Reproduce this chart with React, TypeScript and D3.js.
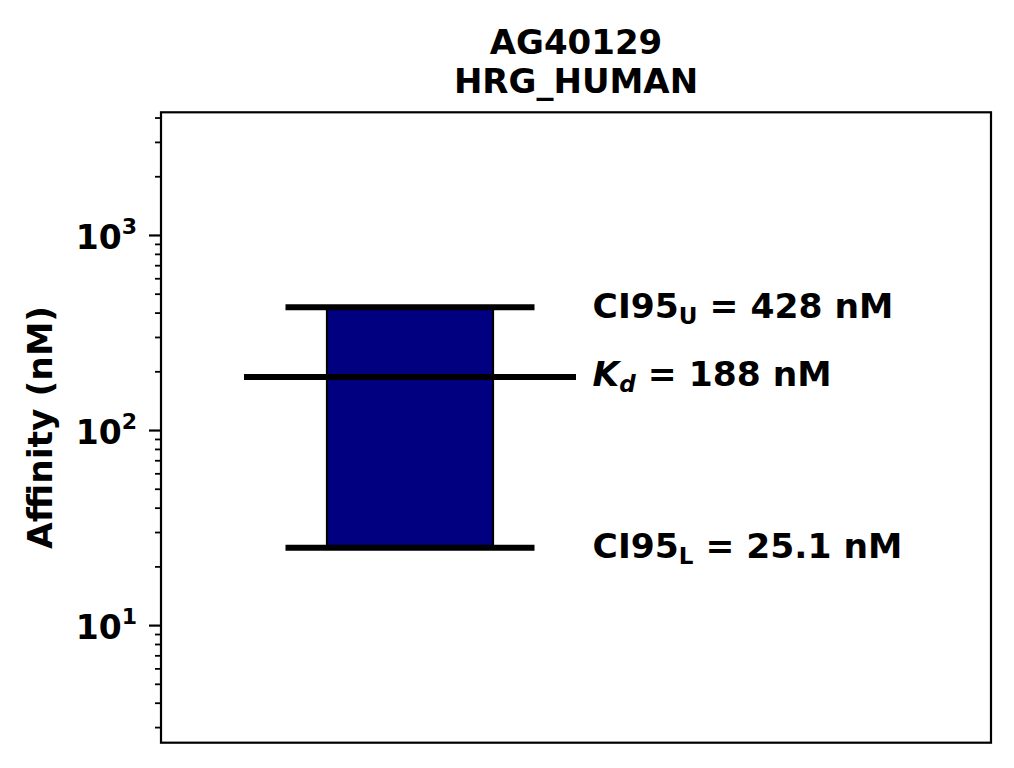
import React from "react";
import * as d3 from "d3";

const titleLines = ["AG40129", "HRG_HUMAN"];
const yLabel = "Affinity (nM)";
const kd = 188;
const ci95Lower = 25.1;
const ci95Upper = 428;
const barX = [0.2, 0.4];
const ciLineX = [0.15, 0.45];
const kdLineX = [0.1, 0.5];
const labelX = 0.52;
const majorTicks = [10, 100, 1000];
const majorTickExp = ["1", "2", "3"];

const W = 1014;
const H = 768;
const M = { left: 161, right: 991, top: 112.3, bottom: 742.7 };
const FONT = "'DejaVu Sans', sans-serif";

export default function App() {
  const x = d3.scaleLinear().domain([0, 1]).range([M.left, M.right]);
  const y = d3
    .scaleLog()
    .domain([ci95Lower / 10, ci95Upper * 10])
    .range([M.bottom, M.top]);
  const [y0, y1] = y.domain();
  const minor: number[] = [];
  for (let e = Math.floor(Math.log10(y0)); e <= Math.ceil(Math.log10(y1)); e++) {
    for (let m = 2; m <= 9; m++) {
      const v = m * Math.pow(10, e);
      if (v >= y0 && v <= y1) minor.push(v);
    }
  }
  const cx = (M.left + M.right) / 2;
  const cy = (M.top + M.bottom) / 2;
  const lw = 6;
  const fs = 34.5;
  const sub = 23;
  return (
    <div style={{ position: "absolute", left: 0, top: 0 }}>
      <svg width={W} height={H} style={{ display: "block", background: "#fff" }} fontFamily={FONT} fontWeight="bold">
        <rect x={0} y={0} width={W} height={H} fill="#fff" />
        <text x={cx} y={54} textAnchor="middle" fontSize={34}>{titleLines[0]}</text>
        <text x={cx} y={93} textAnchor="middle" fontSize={34}>{titleLines[1]}</text>
        {/* bar */}
        <rect
          x={x(barX[0])}
          y={y(ci95Upper)}
          width={x(barX[1]) - x(barX[0])}
          height={y(ci95Lower) - y(ci95Upper)}
          fill="#000080"
          stroke="#000"
          strokeWidth={2.2}
        />
        <line x1={x(ciLineX[0])} x2={x(ciLineX[1])} y1={y(ci95Upper)} y2={y(ci95Upper)} stroke="#000" strokeWidth={lw} />
        <line x1={x(ciLineX[0])} x2={x(ciLineX[1])} y1={y(ci95Lower)} y2={y(ci95Lower)} stroke="#000" strokeWidth={lw} />
        <line x1={x(kdLineX[0])} x2={x(kdLineX[1])} y1={y(kd)} y2={y(kd)} stroke="#000" strokeWidth={lw} />
        {/* labels */}
        <text x={x(labelX)} y={y(ci95Upper) + 10.5} fontSize={fs}>
          CI95<tspan fontSize={sub} dy={6}>U</tspan><tspan dy={-6}> = {ci95Upper} nM</tspan>
        </text>
        <text x={x(labelX)} y={y(kd) + 8.5} fontSize={fs}>
          <tspan fontStyle="italic">K</tspan><tspan fontSize={sub} dy={6} fontStyle="italic">d</tspan><tspan dy={-6}> = {kd} nM</tspan>
        </text>
        <text x={x(labelX)} y={y(ci95Lower) + 10.5} fontSize={fs}>
          CI95<tspan fontSize={sub} dy={6}>L</tspan><tspan dy={-6}> = {ci95Lower} nM</tspan>
        </text>
        {/* frame */}
        <rect x={M.left} y={M.top} width={M.right - M.left} height={M.bottom - M.top} fill="none" stroke="#000" strokeWidth={2.2} />
        {/* ticks */}
        {minor.map((v) => (
          <line key={"m" + v} x1={M.left - 6} x2={M.left} y1={y(v)} y2={y(v)} stroke="#000" strokeWidth={1.8} />
        ))}
        {majorTicks.map((v, i) => (
          <g key={"M" + v}>
            <line x1={M.left - 12} x2={M.left} y1={y(v)} y2={y(v)} stroke="#000" strokeWidth={2.2} />
            <text x={137} y={y(v) + 13.5} textAnchor="end" fontSize={33}>
              10<tspan fontSize={22} dy={-15}>{majorTickExp[i]}</tspan>
            </text>
          </g>
        ))}
        <text transform={`translate(52,${cy}) rotate(-90)`} textAnchor="middle" fontSize={fs}>
          {yLabel}
        </text>
      </svg>
    </div>
  );
}
